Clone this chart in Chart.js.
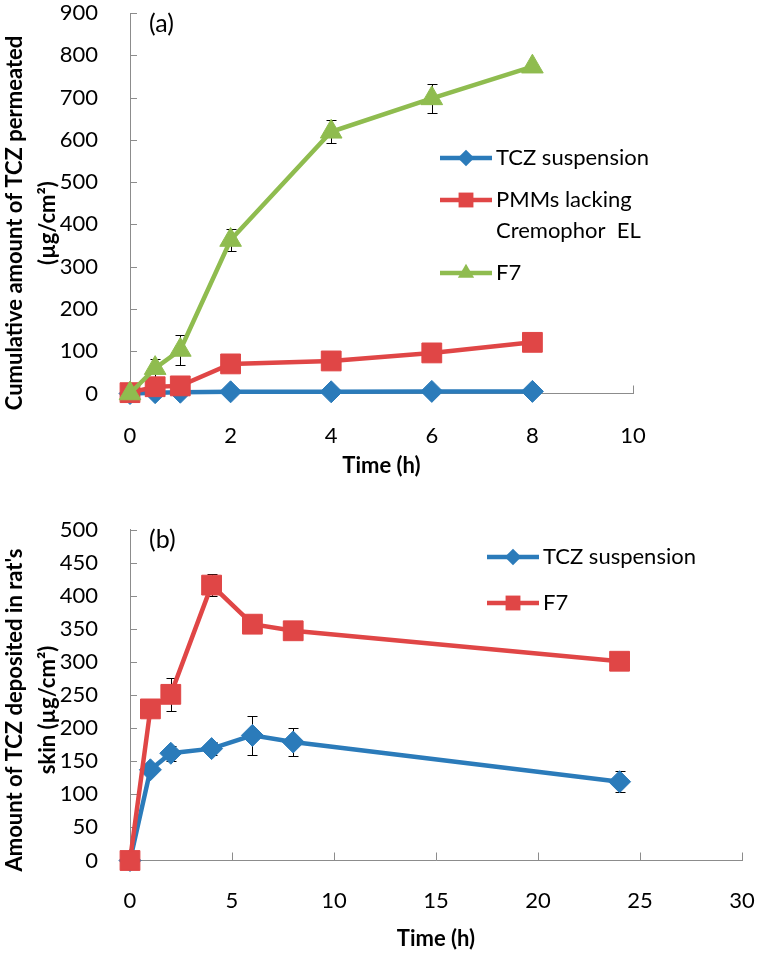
<!DOCTYPE html>
<html>
<head>
<meta charset="utf-8">
<script src="https://cdn.jsdelivr.net/npm/chart.js@4.4.1/dist/chart.umd.min.js"></script>
<style>
  body { margin: 0; background: #fff; }
  .painel { position: relative; width: 760px; }
  #caixaA { height: 490px; }
  #caixaB { height: 466px; }
</style>
</head>
<body>
<div class="painel" id="caixaA"><canvas id="graficoA"></canvas></div>
<div class="painel" id="caixaB"><canvas id="graficoB"></canvas></div>
<script>
// painel (a) - permeação cumulativa
const temposA = [0, 0.5, 1, 2, 4, 6, 8];
const suspensaoA = [0, 2, 3, 4, 4, 5, 5];
const pmmsA = [2, 16, 18, 70, 77, 96, 121];
const f7A = [0, 60, 103, 363, 619, 698, 773];
const f7ErroA = [0, 21, 35, 26, 27, 34, 0];

// painel (b) - depósito na pele
const temposB = [0, 1, 2, 4, 6, 8, 24];
const suspensaoB = [0, 137, 162, 169, 189, 179, 119];
const suspensaoErroB = [0, 5, 11, 10, 29, 21, 16];
const f7B = [0, 229, 251, 416, 357, 347, 301];
const f7ErroB = [0, 0, 25, 17, 0, 0, 0];

const azul = '#2b7bba';
const vermelho = '#e04646';
const verde = '#8fbc4f';
const cinza = '#8c8c8c';

Chart.defaults.font.family = 'Lato';
Chart.defaults.color = '#000';

function pontos(xs, ys) {
    return xs.map((x, i) => ({ x: x, y: ys[i] }));
}

function serie(label, xs, ys, cor, estilo, raio, ordem, erros) {
    return {
        label: label,
        data: pontos(xs, ys),
        erros: erros ? pontos(xs, erros) : null,
        borderColor: cor,
        backgroundColor: cor,
        borderWidth: 4.5,
        pointStyle: estilo,
        pointRadius: raio,
        pointBorderWidth: 1,
        tension: 0,
        clip: false,
        order: ordem
    };
}

// barras de erro (desenhadas antes das linhas, os marcadores ficam por cima)
const barrasErro = {
    id: 'barrasErro',
    beforeDatasetsDraw(chart) {
        const ctx = chart.ctx;
        const xs = chart.scales.x, ys = chart.scales.y;
        ctx.save();
        ctx.strokeStyle = '#000';
        ctx.lineWidth = 1;
        chart.data.datasets.forEach(ds => {
            if (!ds.erros) return;
            ds.data.forEach((p, j) => {
                const e = ds.erros[j].y;
                if (!e) return;
                const px = Math.round(xs.getPixelForValue(p.x)) + 0.5;
                const cima = Math.round(ys.getPixelForValue(p.y + e)) + 0.5;
                const baixo = Math.round(ys.getPixelForValue(p.y - e)) + 0.5;
                ctx.beginPath();
                ctx.moveTo(px, cima); ctx.lineTo(px, baixo);
                ctx.moveTo(px - 5, cima); ctx.lineTo(px + 5, cima);
                ctx.moveTo(px - 5, baixo); ctx.lineTo(px + 5, baixo);
                ctx.stroke();
            });
        });
        ctx.restore();
    }
};

// marcas dos eixos voltadas para dentro, como no Excel
const marcasInternas = {
    id: 'marcasInternas',
    beforeDatasetsDraw(chart) {
        const ctx = chart.ctx;
        const xs = chart.scales.x, ys = chart.scales.y;
        const area = chart.chartArea;
        ctx.save();
        ctx.strokeStyle = cinza;
        ctx.lineWidth = 1;
        ctx.beginPath();
        xs.ticks.forEach(t => {
            const px = Math.round(xs.getPixelForValue(t.value)) + 0.5;
            ctx.moveTo(px, area.bottom); ctx.lineTo(px, area.bottom - 8);
        });
        ys.ticks.forEach(t => {
            const py = Math.round(ys.getPixelForValue(t.value)) + 0.5;
            ctx.moveTo(area.left, py); ctx.lineTo(area.left + 7, py);
        });
        ctx.stroke();
        ctx.restore();
    }
};

// legenda com linha + marcador, rótulo do painel e título vertical
const legendaLinha = {
    id: 'legendaLinha',
    afterDraw(chart, args, opts) {
        const ctx = chart.ctx;
        ctx.save();
        ctx.font = '22px Lato';
        ctx.textBaseline = 'middle';
        ctx.textAlign = 'left';
        let y = opts.y;
        chart.data.datasets.forEach(ds => {
            ctx.strokeStyle = ds.borderColor;
            ctx.lineWidth = 4.5;
            ctx.beginPath();
            ctx.moveTo(opts.x, y); ctx.lineTo(opts.x + 52, y);
            ctx.stroke();
            ctx.fillStyle = ds.backgroundColor;
            Chart.helpers.drawPoint(ctx, {
                pointStyle: ds.pointStyle,
                radius: ds.pointRadius * 0.75,
                rotation: 0,
                borderWidth: 0
            }, opts.x + 26, y);
            ctx.fillStyle = '#000';
            const linhas = ds.label.split('\n');
            linhas.forEach((l, k) => ctx.fillText(l, opts.x + 56, y + k * opts.entreLinhas));
            y += (linhas.length - 1) * opts.entreLinhas + opts.passo;
        });

        ctx.font = '25px Lato';
        ctx.fillText(opts.rotulo, 149, opts.rotuloY);

        // título do eixo y em duas linhas
        ctx.font = 'bold 22px Lato';
        ctx.textAlign = 'center';
        ctx.translate(15, opts.tituloYc);
        ctx.rotate(-Math.PI / 2);
        opts.tituloY.forEach((l, k) => ctx.fillText(l, 0, k * 33));
        ctx.restore();
    }
};

function semFolga(s) {
    // tira a folga automática que o Chart.js reserva para os rótulos
    s.paddingTop = 0; s.paddingBottom = 0;
    s.paddingLeft = 0; s.paddingRight = 0;
}

function opcoes(cfg) {
    return {
        responsive: true,
        maintainAspectRatio: false,
        animation: false,
        events: [],
        layout: {
            autoPadding: false,
            padding: { top: cfg.topo, right: cfg.direita, left: 0, bottom: 0 }
        },
        plugins: {
            legend: { display: false },
            tooltip: { enabled: false },
            legendaLinha: cfg.legenda
        },
        scales: {
            x: {
                type: 'linear',
                min: 0,
                max: cfg.xMax,
                grid: { display: false },
                border: { color: cinza, width: 1 },
                ticks: { stepSize: cfg.xPasso, padding: cfg.xRotuloPad, font: { size: 22 }, color: '#000', autoSkip: false, maxRotation: 0 },
                title: {
                    display: true,
                    text: 'Time (h)',
                    font: { size: 22, weight: 'bold' },
                    color: '#000',
                    padding: { top: 0, bottom: cfg.tituloXPad }
                },
                afterFit(s) { s.height = cfg.alturaX; semFolga(s); }
            },
            y: {
                min: 0,
                max: cfg.yMax,
                grid: { display: false },
                border: { color: cinza, width: 1 },
                ticks: { stepSize: cfg.yPasso, padding: 24, font: { size: 22 }, color: '#000', autoSkip: false },
                afterFit(s) { s.width = 130; semFolga(s); }
            }
        }
    };
}

new Chart(document.getElementById('graficoA'), {
    type: 'line',
    data: {
        datasets: [
            serie('TCZ suspension', temposA, suspensaoA, azul, 'rectRot', 11, 3),
            serie('PMMs lacking\nCremophor  EL', temposA, pmmsA, vermelho, 'rect', 14, 2),
            serie('F7', temposA, f7A, verde, 'triangle', 12.5, 1, f7ErroA)
        ]
    },
    options: opcoes({
        topo: 13, direita: 127, xMax: 10, xPasso: 2, yMax: 900, yPasso: 100,
        alturaX: 96.5, xRotuloPad: 21, tituloXPad: 11,
        legenda: {
            x: 440, y: 158, passo: 42, entreLinhas: 31, rotulo: '(a)', rotuloY: 24,
            tituloY: ['Cumulative amount of TCZ permeated', '(µg/cm²)'], tituloYc: 223
        }
    }),
    plugins: [marcasInternas, barrasErro, legendaLinha]
});

new Chart(document.getElementById('graficoB'), {
    type: 'line',
    data: {
        datasets: [
            serie('TCZ suspension', temposB, suspensaoB, azul, 'rectRot', 11, 2, suspensaoErroB),
            serie('F7', temposB, f7B, vermelho, 'rect', 14, 1, f7ErroB)
        ]
    },
    options: opcoes({
        topo: 39.5, direita: 18, xMax: 30, xPasso: 5, yMax: 500, yPasso: 50,
        alturaX: 95.5, xRotuloPad: 19, tituloXPad: 4,
        legenda: {
            x: 487, y: 67, passo: 46, entreLinhas: 31, rotulo: '(b)', rotuloY: 50,
            tituloY: ["Amount of TCZ deposited in rat's", 'skin (µg/cm²)'], tituloYc: 220
        }
    }),
    plugins: [marcasInternas, barrasErro, legendaLinha]
});
</script>
</body>
</html>
